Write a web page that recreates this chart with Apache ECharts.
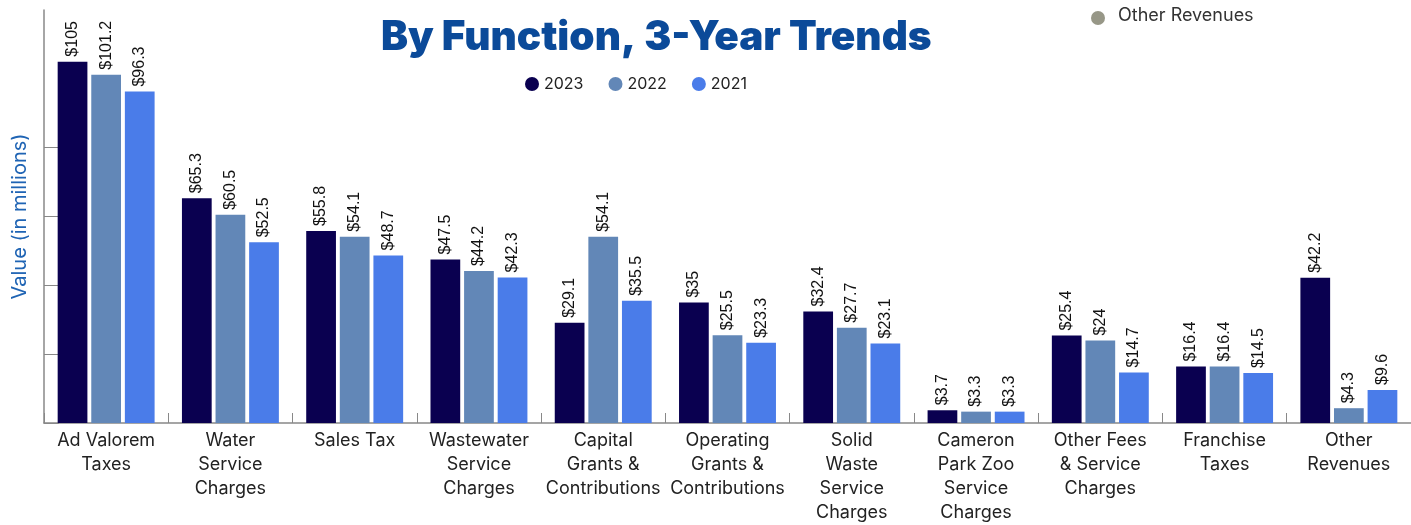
<!DOCTYPE html>
<html>
<head>
<meta charset="utf-8">
<script src="https://cdn.jsdelivr.net/npm/echarts@6/dist/echarts.min.js"></script>
<style>
html,body{margin:0;padding:0;background:#fff;}
#chart{width:1411px;height:525px;}
</style>
</head>
<body>
<div id="chart"></div>
<script>
const categories = [
  "Ad Valorem\nTaxes", "Water\nService\nCharges", "Sales Tax",
  "Wastewater\nService\nCharges", "Capital\nGrants &\nContributions",
  "Operating\nGrants &\nContributions", "Solid\nWaste\nService\nCharges",
  "Cameron\nPark Zoo\nService\nCharges", "Other Fees\n& Service\nCharges",
  "Franchise\nTaxes", "Other\nRevenues"
];
const values2023 = [105, 65.3, 55.8, 47.5, 29.1, 35, 32.4, 3.7, 25.4, 16.4, 42.2];
const values2022 = [101.2, 60.5, 54.1, 44.2, 54.1, 25.5, 27.7, 3.3, 24, 16.4, 4.3];
const values2021 = [96.3, 52.5, 48.7, 42.3, 35.5, 23.3, 23.1, 3.3, 14.7, 14.5, 9.6];
const yTicks = [0, 20, 40, 60, 80];

const chart = echarts.init(document.getElementById('chart'), null, {renderer: 'canvas'});
const FONT = '"Liberation Sans", Arial, sans-serif';
const UI = 'Inter, "Noto Sans", sans-serif';

function barSeries(name, data, color) {
  return {
    name: name,
    type: 'bar',
    data: data,
    itemStyle: {color: color},
    barGap: '13%',
    barCategoryGap: '22%',
    label: {
      show: true,
      position: 'top',
      rotate: 90,
      align: 'left',
      verticalAlign: 'middle',
      distance: 5,
      color: '#111',
      fontSize: 16,
      fontFamily: FONT,
      formatter: p => '$' + p.value
    }
  };
}

chart.setOption({
  animation: false,
  backgroundColor: '#fff',
  title: {
    text: 'By Function, 3-Year Trends',
    left: 376,
    top: 12,
    textStyle: {
      fontFamily: 'Inter, Roboto, sans-serif',
      fontWeight: 900,
      fontSize: 40.5,
      color: '#0b4a99'
    }
  },
  legend: {
    left: 520,
    top: 71,
    icon: 'circle',
    itemWidth: 14,
    itemHeight: 14,
    itemGap: 25,
    textStyle: {fontSize: 16, color: '#222', fontFamily: UI},
    data: ['2023', '2022', '2021']
  },
  graphic: [
    {type: 'circle', shape: {cx: 1098, cy: 18, r: 7}, style: {fill: '#979787'}},
    {type: 'text', left: 1118, top: 7, style: {text: 'Other Revenues', fontSize: 18, fill: '#333', fontFamily: UI}}
  ],
  grid: {left: 44, top: 10, width: 1372, bottom: 98, containLabel: false},
  xAxis: {
    type: 'category',
    data: categories,
    axisLine: {lineStyle: {color: '#888', width: 1.5}},
    axisTick: {show: true, inside: true, length: 10, lineStyle: {color: '#888'}},
    axisLabel: {interval: 0, fontSize: 18, color: '#222', lineHeight: 24, margin: 6, fontFamily: UI}
  },
  yAxis: {
    type: 'value',
    min: 0,
    max: 120,
    interval: 20,
    name: 'Value (in millions)',
    nameLocation: 'middle',
    nameGap: 14,
    nameTextStyle: {color: '#1f64b4', fontSize: 20, fontFamily: UI},
    axisLine: {show: true, lineStyle: {color: '#888', width: 1.5}},
    axisTick: {show: true, inside: true, length: 15, lineStyle: {color: '#888'}, customValues: yTicks},
    axisLabel: {show: false},
    splitLine: {show: false}
  },
  series: [
    barSeries('2023', values2023, '#0a0050'),
    barSeries('2022', values2022, '#6287b7'),
    barSeries('2021', values2021, '#4a7ce9')
  ]
});
</script>
</body>
</html>
